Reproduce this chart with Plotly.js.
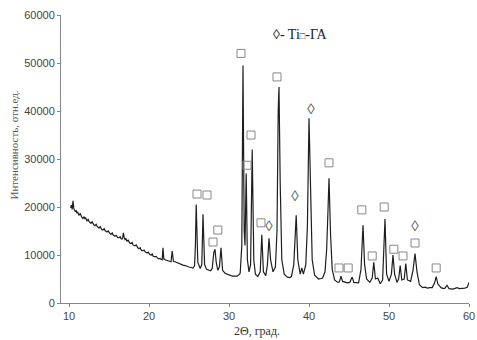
<!DOCTYPE html>
<html><head><meta charset="utf-8">
<script src="https://cdn.plot.ly/plotly-3.0.1.min.js"></script>
<style>html,body{margin:0;padding:0;background:#fff}#c{width:477px;height:340px}</style>
</head><body><div id="c"></div>
<script>
// 2θ (degrees) and intensity (rel. units)
const twoTheta = [10.2,10.3,10.4,10.5,10.6,10.7,10.8,10.9,11.0,11.1,11.25,11.4,11.5,11.6,11.75,11.9,12.0,12.1,12.25,12.4,12.5,12.6,12.75,12.9,13.0,13.1,13.25,13.4,13.5,13.6,13.75,13.9,14.0,14.1,14.25,14.4,14.5,14.6,14.75,14.9,15.0,15.1,15.25,15.4,15.5,15.6,15.75,15.9,16.0,16.1,16.25,16.4,16.5,16.6,16.7,16.8,16.9,17.0,17.1,17.25,17.4,17.5,17.6,17.75,17.9,18.0,18.1,18.25,18.4,18.5,18.6,18.75,18.9,19.0,19.1,19.25,19.4,19.5,19.6,19.75,19.9,20.0,20.1,20.25,20.4,20.5,20.6,20.75,20.9,21.0,21.1,21.25,21.4,21.5,21.65,21.75,21.85,22.0,22.25,22.5,22.75,22.9,23.05,23.25,23.5,23.75,24.0,24.25,24.5,24.75,25.0,25.25,25.5,25.7,25.8,25.9,26.0,26.1,26.4,26.6,26.75,26.85,26.95,27.2,27.5,27.7,27.9,28.1,28.25,28.4,28.6,28.8,29.0,29.2,29.5,29.75,30.0,30.25,30.5,30.75,31.0,31.2,31.4,31.6,31.75,31.9,32.0,32.15,32.3,32.5,32.7,32.9,33.1,33.3,33.6,33.9,34.1,34.3,34.6,34.8,35.0,35.2,35.5,35.8,36.0,36.15,36.25,36.4,36.6,36.9,37.3,37.6,37.8,38.1,38.4,38.6,38.9,39.1,39.3,39.6,39.8,40.0,40.2,40.4,40.7,41.0,41.2,41.5,41.7,42.0,42.2,42.35,42.5,42.7,42.9,43.2,43.6,43.8,44.0,44.2,44.5,44.8,45.1,45.4,45.6,45.9,46.2,46.5,46.75,46.95,47.2,47.6,47.9,48.1,48.3,48.6,48.9,49.2,49.5,49.7,50.0,50.3,50.5,50.7,51.0,51.2,51.4,51.6,51.9,52.1,52.3,52.7,53.0,53.25,53.5,53.8,54.2,54.5,54.8,55.1,55.4,55.7,55.9,56.1,56.5,56.8,57.0,57.25,57.5,58.0,58.3,58.5,58.8,59.0,59.3,59.5,59.8,60.0];
const intensity = [19800,20400,19500,21300,19700,19200,19000,19300,18700,18900,18300,18600,18100,17900,17600,18000,17500,17700,17100,17400,17000,16800,16600,16900,16500,16300,16100,16400,16000,15800,15600,15900,15500,15300,15200,15500,15100,14900,14800,15000,14700,14500,14300,14600,14200,14000,13900,14100,13800,13600,13600,13800,13400,13300,13600,14600,13600,13200,13400,12900,13100,12600,12500,12400,12600,12100,12000,11900,12100,11600,11500,11300,11500,11100,10900,10900,11000,10700,10500,10400,10600,10200,10100,10000,10200,9800,9700,9600,9700,9400,9300,9200,9300,9100,9000,11500,9200,9000,8900,8800,8600,10800,8700,8600,8400,8300,8100,7900,7800,7600,7500,7400,7300,7800,12000,20500,12000,8500,7200,8000,18500,11000,8000,7000,6800,6700,7200,10500,11200,8500,6800,7500,11500,6800,6200,6000,5800,5700,5600,5600,5600,5800,6200,12000,49500,15000,12000,27000,9000,6500,8000,32000,9000,6000,5500,6500,14200,6500,5700,8000,13500,9000,6500,7500,15000,40000,45000,25000,9000,6000,5400,5300,5500,8000,18300,9000,6000,7300,6000,8000,16000,38500,22000,9000,5800,5300,5000,5100,5200,6500,11000,18000,26000,14000,7000,4800,4300,4400,5600,4500,4400,4200,4300,5400,4300,4200,4200,7000,16200,8000,5000,4300,5200,8500,5000,5200,4000,4800,17500,6000,4500,6000,10000,6000,4300,5000,7800,4800,5000,8200,4800,4500,6800,10300,6500,3800,3200,3300,3100,3200,3200,4200,5500,4000,3200,3000,3100,3700,3000,2900,3100,3200,3000,3000,3100,3100,3300,4300];

// peak labels: □ and ◊ positions (2θ, intensity)
const sqX = [26.0,27.25,28.0,28.6,31.5,32.25,32.75,34.0,36.0,42.5,43.75,44.9,46.6,47.9,49.4,50.6,51.75,53.25,55.9];
const sqY = [22700,22500,12700,15200,52000,28700,35000,16700,47100,29200,7300,7300,19400,9800,20000,11200,9800,12500,7300];
const dmX = [35.0,38.25,40.25,53.25];
const dmY = [15800,22100,40200,15800];

const xTicks = [10,20,30,40,50,60];
const yTicks = [0,10000,20000,30000,40000,50000,60000];

const serif = '"Liberation Serif","Times New Roman",serif';
const sans = '"Liberation Sans",Arial,sans-serif';

const traces = [
  {x: twoTheta, y: intensity, type: 'scatter', mode: 'lines',
   line: {color: '#1e1e1e', width: 1.2}, hoverinfo: 'skip'},
  {x: sqX, y: sqY, type: 'scatter', mode: 'markers',
   marker: {symbol: 'square-open', size: 8, color: '#888', line: {width: 1, color: '#888'}}, hoverinfo: 'skip'},
  {x: dmX, y: dmY, type: 'scatter', mode: 'text', text: dmX.map(() => '◊'),
   textfont: {family: serif, size: 15, color: '#555'}, hoverinfo: 'skip'}
];

const layout = {
  width: 477, height: 340,
  margin: {l: 61, r: 8, t: 15, b: 37},
  paper_bgcolor: '#fff', plot_bgcolor: '#fff',
  showlegend: false,
  xaxis: {range: [9, 60], tickvals: xTicks, ticktext: xTicks.map(String),
    showgrid: false, zeroline: false, showline: true, linecolor: '#888', linewidth: 1,
    ticks: 'outside', ticklen: 3, tickcolor: '#888',
    tickfont: {family: sans, size: 11, color: '#444'}},
  yaxis: {range: [0, 60000], tickvals: yTicks, ticktext: yTicks.map(String),
    showgrid: false, zeroline: false, showline: true, linecolor: '#888', linewidth: 1,
    ticks: 'outside', ticklen: 3, tickcolor: '#888',
    tickfont: {family: sans, size: 11, color: '#444'}},
  annotations: [
    {text: 'Интенсивность, отн.ед.', xref: 'paper', yref: 'paper', x: -0.135, y: 0.55,
     showarrow: false, textangle: -90, font: {family: serif, size: 11, color: '#555'}},
    {text: '2Θ, град.', xref: 'paper', yref: 'paper', x: 0.48, y: -0.13, yanchor: 'bottom',
     showarrow: false, font: {family: serif, size: 12, color: '#333'}},
    {text: '◊- Ti<span style="font-size:9px">□</span>-ГА', xref: 'paper', yref: 'paper',
     x: 0.514, xanchor: 'left', y: 0.965, showarrow: false,
     font: {family: serif, size: 14, color: '#222'}}
  ]
};

Plotly.newPlot('c', traces, layout, {staticPlot: true, displayModeBar: false});
</script></body></html>
